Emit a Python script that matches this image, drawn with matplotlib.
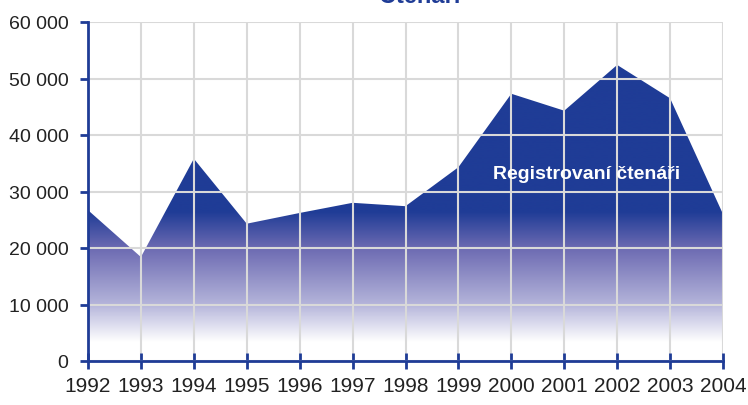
import numpy as np
import matplotlib.pyplot as plt
from matplotlib.colors import LinearSegmentedColormap
from matplotlib.ticker import FuncFormatter

years = [1992, 1993, 1994, 1995, 1996, 1997, 1998, 1999, 2000, 2001, 2002, 2003, 2004]
readers = [26700, 18400, 35800, 24300, 26200, 28000, 27400, 34300, 47300, 44300, 52400, 46500, 26000]
y_ticks = [0, 10000, 20000, 30000, 40000, 50000, 60000]
title = "Čtenáři"
series_label = "Registrovaní čtenáři"

blue = "#1f3c96"
plt.rcParams['font.family'] = ['Liberation Sans Narrow', 'Liberation Sans', 'DejaVu Sans']

fig = plt.figure(figsize=(7.48, 4.06), dpi=100)
ax = fig.add_axes([88 / 748, 1 - 362 / 406, 635 / 748, 339 / 406])

# gradient fill clipped to the area polygon (0 -> 60000 in image)
cmap = LinearSegmentedColormap.from_list("fade", [(0.0, "#ffffff"), (0.055, "#ffffff"),
                                                  (0.167, "#b4b4da"), (0.333, "#6c6ab2"),
                                                  (0.44, blue), (1.0, blue)])
poly = ax.fill_between(years, readers, 0, color="none", lw=0)
grad = np.linspace(0, 1, 512).reshape(-1, 1)
img = ax.imshow(grad, cmap=cmap, origin="lower", aspect="auto",
                extent=[years[0], years[-1], 0, 60000], zorder=1)
img.set_clip_path(poly.get_paths()[0], transform=ax.transData)

ax.set_xlim(years[0], years[-1])
ax.set_ylim(0, 60000)
ax.set_xticks(years)
ax.set_yticks(y_ticks)
ax.yaxis.set_major_formatter(FuncFormatter(lambda v, p: f"{int(v):,}".replace(",", " ")))
ax.grid(True, color="#d9d9d9", lw=1.5, zorder=2)
ax.set_axisbelow(False)

for s in ["top", "right"]:
    ax.spines[s].set_visible(False)
for s in ["left", "bottom"]:
    ax.spines[s].set_color(blue)
    ax.spines[s].set_linewidth(2)
    ax.spines[s].set_zorder(3)
ax.tick_params(axis="x", direction="inout", length=12, width=2, color=blue,
               labelsize=15, pad=5, labelcolor="#222222")
ax.tick_params(axis="y", direction="out", length=6, width=2, color=blue,
               labelsize=14, pad=8, labelcolor="#222222")

ax.text(2001.43, 33100, series_label, color="white", fontsize=14, fontweight="bold",
        family=["Liberation Sans", "DejaVu Sans"], ha="center", va="center", zorder=4)
fig.text(420 / 748, 1 - 3 / 406, title, color=blue, fontsize=17, fontweight="bold",
         family=["Liberation Sans", "DejaVu Sans"], ha="center", va="baseline")

fig.savefig("out.png", dpi=100)
